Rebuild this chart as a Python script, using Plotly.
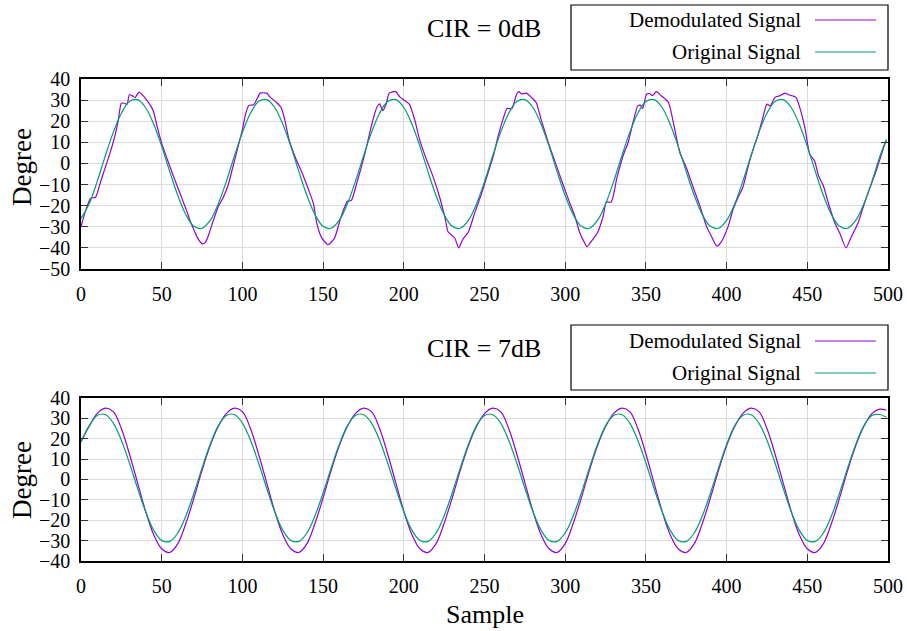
import plotly.graph_objects as go

# Sample positions (every 5 samples, last sample 499)
SAMPLES = list(range(0, 500, 5)) + [499]

# CIR = 0dB, original signal
ORIG_0DB = [
    -26.0, -19.2, -8.6, 3.4, 14.7, 23.8, 29.3, 30.2, 26.5, 18.7, 8.1, -3.9, -15.2, -24.3, -29.8, -30.7,
    -27.0, -19.2, -8.6, 3.4, 14.7, 23.8, 29.3, 30.2, 26.5, 18.7, 8.1, -3.9, -15.2, -24.3, -29.8, -30.7,
    -27.0, -19.2, -8.6, 3.4, 14.7, 23.8, 29.3, 30.2, 26.5, 18.7, 8.1, -3.9, -15.2, -24.3, -29.8, -30.7,
    -27.0, -19.2, -8.6, 3.4, 14.7, 23.8, 29.3, 30.2, 26.5, 18.7, 8.1, -3.9, -15.2, -24.3, -29.8, -30.7,
    -27.0, -19.2, -8.6, 3.4, 14.7, 23.8, 29.3, 30.2, 26.5, 18.7, 8.1, -3.9, -15.2, -24.3, -29.8, -30.7,
    -27.0, -19.2, -8.6, 3.4, 14.7, 23.8, 29.3, 30.2, 26.5, 18.7, 8.1, -3.9, -15.2, -24.3, -29.8, -30.7,
    -27.0, -19.2, -8.6, 3.4, 11.5,
]

# CIR = 0dB, demodulated signal (uneven spacing)
DEMOD_0DB_X = [
    0, 3, 6, 9, 12, 15, 18, 21, 23, 25, 27, 28.5, 30, 32, 33.5, 36, 38, 40, 43, 45, 47, 50, 53, 57,
    60, 63, 66, 68, 70, 72, 75, 77, 79, 82, 85, 88, 91, 94, 97, 100, 102, 104, 107, 109, 111, 115,
    117, 121, 124, 126, 129, 133, 137, 141, 144, 146, 149, 153, 157, 161, 165, 167.5, 171, 175, 178,
    181, 183.5, 185, 187, 189, 191, 195, 197.5, 200.5, 203.5, 207, 210, 214, 218, 222, 225.5, 227.5,
    231.5, 234, 236.5, 240, 244, 248, 252, 255.5, 258.5, 261.5, 264, 267, 270, 271.5, 273, 276, 279,
    282, 285, 289.5, 293.5, 297.5, 302, 306, 309, 312, 313.5, 316, 320, 323.5, 325.5, 328.5, 332,
    336, 339, 342, 345, 346.5, 348, 350.5, 352.5, 354, 356.5, 359.5, 364, 367, 371, 375, 379, 383.5,
    387.5, 390.5, 394, 397, 401, 404, 407, 410, 414, 417, 419.5, 422.5, 425, 427, 430, 433, 436, 439,
    443, 445, 448.5, 451.5, 454.5, 457, 460, 463, 467, 470, 474, 477, 481.5, 485.5, 488.5, 493, 498, 499,
]
DEMOD_0DB_Y = [
    -30, -22, -16.5, -16, -9, -2, 5, 13, 20, 28.5, 28.5, 28, 32.5, 32, 31.2, 33.8, 32.5, 30.7, 27.5, 24.5, 18, 9.5, 3, -5.5,
    -11.5, -17.5, -23.5, -28, -31.5, -35, -38, -37.5, -34, -27, -20.5, -16.2, -10.7, -2, 7, 16, 23.5, 27.5, 27.8, 30.5, 33.3, 33.3,
    31.5, 29, 26.5, 21.5, 11, 2.5, -4.5, -12.5, -19, -28, -35, -38.5, -35.5, -25.5, -18, -17.5, -9, 2, 11.5,
    21, 27, 28.2, 25, 28, 33.3, 34, 31.5, 29.8, 28, 20, 10.7, 2, -6, -15.4, -25.7, -32.5,
    -35.2, -40, -36, -32.5, -23.3, -14.6, -5, 3.6, 13, 21, 26, 26, 33, 34, 32.9, 33.3, 31.3,
    28.9, 21, 10, 1.2, -7.5, -17, -25, -32.8, -37.6, -39.5, -37, -32.8, -25, -18.3, -18.3, -7,
    4, 9.9, 19.4, 27.3, 27.6, 26.1, 32.9, 33, 32.1, 34, 32.1, 28.9, 19.4, 5.2, -1.9, -10.7, -20.2,
    -29.7, -34.4, -39.2, -36.8, -29.7, -21.8, -16.2, -11.5, 0.4, 8, 13.5, 21.8, 28.1, 27.3, 31.3, 32.1, 33.3, 32.4,
    31.3, 27.3, 17, 4.4, 1.2, -5.9, -10.7, -18.6, -28.1, -32.8, -40, -35.2, -28.1, -18.6, -12.3, -2.8, 9.1, 10.5,
]

# CIR = 7dB
ORIG_7DB = [
    18.5, 26.3, 31.4, 31.9, 27.7, 19.3, 8.1, -4.2, -15.7, -24.8, -29.9, -30.4, -26.2, -17.8, -6.6, 5.7,
    17.2, 26.3, 31.4, 31.9, 27.7, 19.3, 8.1, -4.2, -15.7, -24.8, -29.9, -30.4, -26.2, -17.8, -6.6, 5.7,
    17.2, 26.3, 31.4, 31.9, 27.7, 19.3, 8.1, -4.2, -15.7, -24.8, -29.9, -30.4, -26.2, -17.8, -6.6, 5.7,
    17.2, 26.3, 31.4, 31.9, 27.7, 19.3, 8.1, -4.2, -15.7, -24.8, -29.9, -30.4, -26.2, -17.8, -6.6, 5.7,
    17.2, 26.3, 31.4, 31.9, 27.7, 19.3, 8.1, -4.2, -15.7, -24.8, -29.9, -30.4, -26.2, -17.8, -6.6, 5.7,
    17.2, 26.3, 31.4, 31.9, 27.7, 19.3, 8.1, -4.2, -15.7, -24.8, -29.9, -30.4, -26.2, -17.8, -6.6, 5.7,
    17.2, 26.3, 31.4, 31.9, 30.5,
]
DEMOD_7DB = [
    18.5, 26.0, 32.3, 35.0, 33.3, 25.0, 12.5, -1.5, -15.5, -27.0, -34.0, -35.8, -31.5, -21.5, -9.0, 4.5,
    16.5, 26.0, 32.3, 35.0, 33.3, 25.0, 12.5, -1.5, -15.5, -27.0, -34.0, -35.8, -31.5, -21.5, -9.0, 4.5,
    16.5, 26.0, 32.3, 35.0, 33.3, 25.0, 12.5, -1.5, -15.5, -27.0, -34.0, -35.8, -31.5, -21.5, -9.0, 4.5,
    16.5, 26.0, 32.3, 35.0, 33.3, 25.0, 12.5, -1.5, -15.5, -27.0, -34.0, -35.8, -31.5, -21.5, -9.0, 4.5,
    16.5, 26.0, 32.3, 35.0, 33.3, 25.0, 12.5, -1.5, -15.5, -27.0, -34.0, -35.8, -31.5, -21.5, -9.0, 4.5,
    16.5, 26.0, 32.3, 35.0, 33.3, 25.0, 12.5, -1.5, -15.5, -27.0, -34.0, -35.8, -31.5, -21.5, -9.0, 4.5,
    16.5, 26.0, 32.3, 34.5, 34.0,
]

PANELS = ['CIR = 0dB', 'CIR = 7dB']
SERIES = ['Demodulated Signal', 'Original Signal']

COLOR_DEMOD = '#9400d3'
COLOR_ORIG = '#009e73'
FONT = 'Liberation Serif'
GRID = '#dcdcdc'

fig = go.Figure()

fig.add_trace(go.Scatter(x=DEMOD_0DB_X, y=DEMOD_0DB_Y, mode='lines',
                         line=dict(color=COLOR_DEMOD, width=1.2, shape='spline', smoothing=0.6),
                         xaxis='x', yaxis='y', showlegend=False))
fig.add_trace(go.Scatter(x=SAMPLES, y=ORIG_0DB, mode='lines',
                         line=dict(color=COLOR_ORIG, width=1.2, shape='spline'),
                         xaxis='x', yaxis='y', showlegend=False))
fig.add_trace(go.Scatter(x=SAMPLES, y=DEMOD_7DB, mode='lines',
                         line=dict(color=COLOR_DEMOD, width=1.2, shape='spline'),
                         xaxis='x2', yaxis='y2', showlegend=False))
fig.add_trace(go.Scatter(x=SAMPLES, y=ORIG_7DB, mode='lines',
                         line=dict(color=COLOR_ORIG, width=1.2, shape='spline'),
                         xaxis='x2', yaxis='y2', showlegend=False))

axis_common = dict(
    showline=True, linecolor='black', linewidth=1.5, mirror='ticks',
    ticks='inside', ticklen=7, tickwidth=1.2, tickcolor='#333333',
    showgrid=True, gridcolor=GRID, gridwidth=1.3, zeroline=False, automargin=False,
    tickfont=dict(family=FONT, size=20, color='black'),
)

fig.update_layout(
    width=907, height=631,
    margin=dict(l=81, r=19, t=79, b=70),
    plot_bgcolor='white', paper_bgcolor='white',
    xaxis=dict(axis_common, range=[0, 500], dtick=50, anchor='y', domain=[0, 1], ticklabelstandoff=6),
    yaxis=dict(axis_common, range=[-50, 40], dtick=10, anchor='x', domain=[0.6058, 1], ticklabelstandoff=5),
    xaxis2=dict(axis_common, range=[0, 500], dtick=50, anchor='y2', domain=[0, 1], ticklabelstandoff=6),
    yaxis2=dict(axis_common, range=[-40, 40], dtick=10, anchor='x2', domain=[0, 0.3382], ticklabelstandoff=5),
)

# gnuplot style key boxes, titles and axis labels
shapes = []
annotations = []
for box_top, box_bot, rows in [(1.1535, 1.0187, (1.1224, 1.056)),
                               (0.4896, 0.3548, (0.4564, 0.39))]:
    shapes.append(dict(type='rect', xref='paper', yref='paper', x0=0.6072, x1=1.0,
                       y0=box_bot, y1=box_top, line=dict(color='black', width=1.2)))
    for name, color, ry in zip(SERIES, [COLOR_DEMOD, COLOR_ORIG], rows):
        shapes.append(dict(type='line', xref='paper', yref='paper', x0=0.9095, x1=0.9851,
                           y0=ry, y1=ry, line=dict(color=color, width=1.2)))
        annotations.append(dict(text=name, xref='paper', yref='paper', x=0.8947, y=ry,
                                xanchor='right', yanchor='middle', showarrow=False,
                                font=dict(family=FONT, size=21, color='black')))
for title, ty in zip(PANELS, [1.1058, 0.4419]):
    annotations.append(dict(text=title, xref='paper', yref='paper', x=0.4994, y=ty,
                            xanchor='center', yanchor='middle', showarrow=False,
                            font=dict(family=FONT, size=26, color='black')))
for ty in [0.8174, 0.168]:
    annotations.append(dict(text='Degree', xref='paper', yref='paper', x=-0.0731, y=ty,
                            xanchor='center', yanchor='middle', textangle=-90, showarrow=False,
                            font=dict(family=FONT, size=27, color='black')))
annotations.append(dict(text='Sample', xref='paper', yref='paper', x=0.5006, y=-0.11,
                        xanchor='center', yanchor='middle', showarrow=False,
                        font=dict(family=FONT, size=26, color='black')))

fig.update_layout(shapes=shapes, annotations=annotations)

# drop the default page margin so the figure sits at the window's corner
fig.write_html("out.html", config={'displayModeBar': False},
               post_script="document.body.style.margin='0';")
